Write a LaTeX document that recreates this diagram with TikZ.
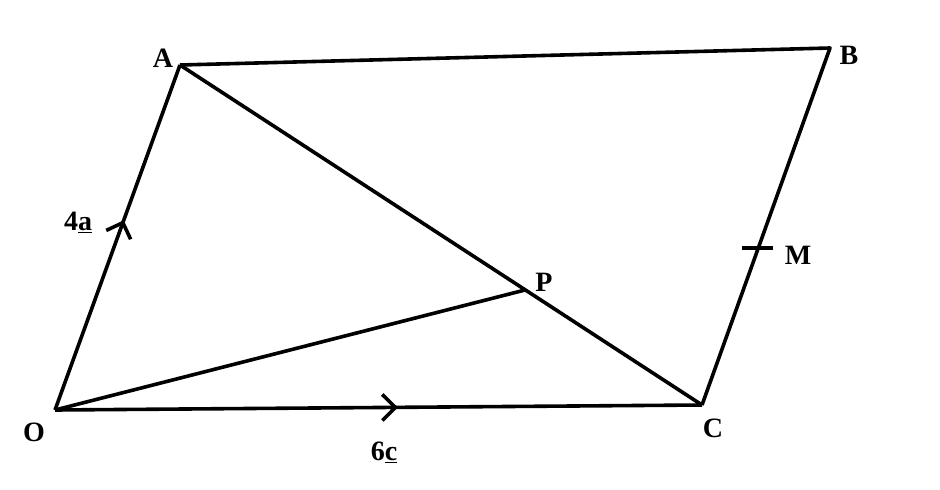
\documentclass[tikz,border=0pt]{standalone}
\usepackage{fontspec}
\setmainfont{Liberation Serif}
\usetikzlibrary{arrows.meta,decorations.markings}
\begin{document}
\begin{tikzpicture}[x=1pt,y=-1pt,
  edge/.style={line width=3.6pt},
  lbl/.style={font=\fontsize{28}{32}\selectfont\bfseries, inner sep=0pt},
  midarrow/.style={postaction={decorate,decoration={markings,
     mark=at position #1 with {\arrow{Straight Barb[length=13pt,width=26pt,line width=3.6pt]}}}}}]
\useasboundingbox (0,0) rectangle (940,490);
\coordinate (O) at (55,410);
\coordinate (A) at (180,65);
\coordinate (B) at (830,48);
\coordinate (C) at (702,405);
\coordinate (P) at (525,290);
\coordinate (Mt1) at (742,248);
\coordinate (Mt2) at (773,248);
\draw[edge, line join=round] (A) -- (B) -- (C);
\draw[edge] (A) -- (C);
\draw[edge] (O) -- (P);
\draw[edge, midarrow=0.55] (O) -- (A);
\draw[edge, midarrow=0.53] (O) -- (C);
\draw[edge] (Mt1) -- (Mt2);
\node[lbl] (lA) at (163,58) {A};
\node[lbl] (lB) at (849,55) {B};
\node[lbl] (lC) at (713,428) {C};
\node[lbl] (lO) at (34,432) {O};
\node[lbl] (lP) at (544,282) {P};
\node[lbl] (lM) at (798,255) {M};
\node[lbl] (l4a) at (78,222) {4\underline{a}};
\node[lbl] (l6c) at (384,452) {6\underline{c}};
\end{tikzpicture}
\end{document}
